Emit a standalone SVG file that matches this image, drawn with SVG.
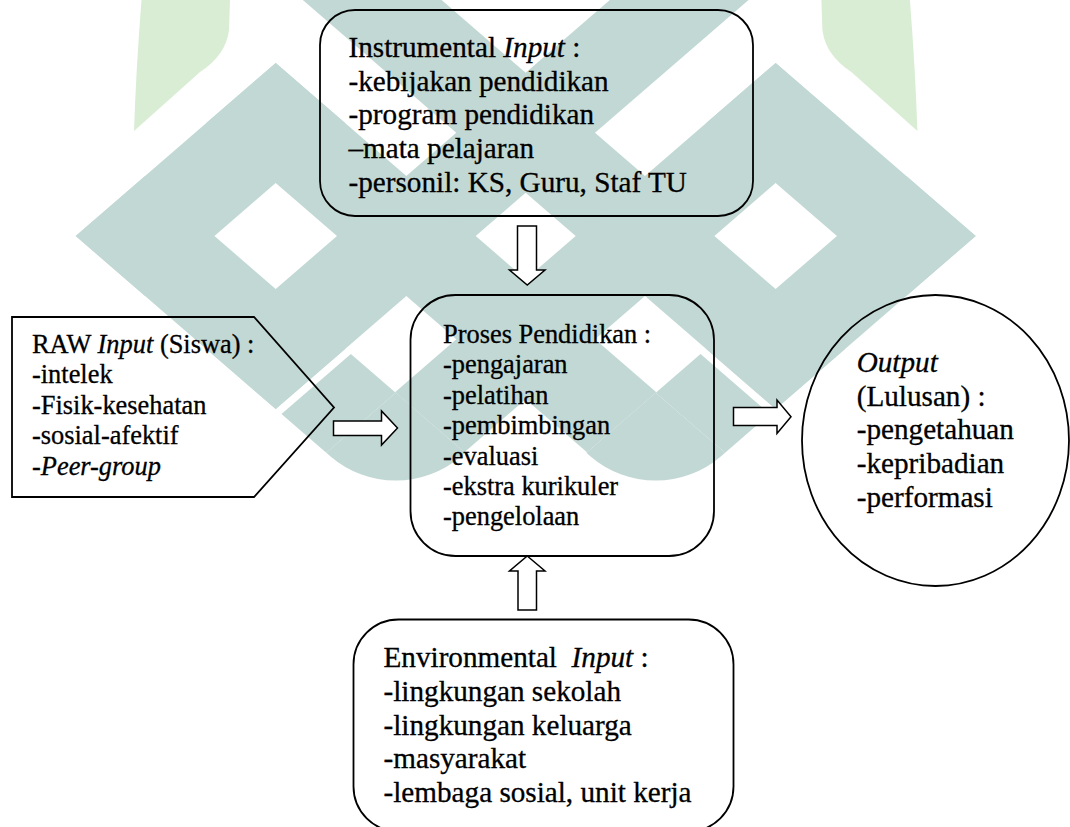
<svg xmlns="http://www.w3.org/2000/svg" xmlns:xlink="http://www.w3.org/1999/xlink" width="1070" height="827" viewBox="0 0 1070 827">
<style>
.wt{fill:#c2d8d4}
.wg{fill:#d9edd4}
.box{fill:none;stroke:#000;stroke-width:1.8}
.arrow{fill:#fff;stroke:#000;stroke-width:1.5;stroke-linejoin:miter}
.t{font-family:'Liberation Serif','Times New Roman',serif;fill:#000;stroke:#000;stroke-width:0.3}
.big{font-size:29.2px}
.small{font-size:26.4px}
.i{font-style:italic}
</style>
<defs>
<g id="wmHalf">
<path class="wg" d="M141.5,0 L230,0 L229,30 Q226,55 200,72 L134,131 Q136,70 141.5,0 Z"/>
<g transform="matrix(0.578035 0.5 -0.578035 0.5 0 0)">
<rect class="wt" x="301.5" y="-175.5" width="120" height="346"/>
<rect class="wt" x="527.5" y="-700" width="120" height="870.5"/>
<rect class="wt" x="301.5" y="-175.5" width="658.5" height="120"/>
<rect class="wt" x="301.5" y="50.5" width="346" height="120"/>
<rect class="wt" x="657.5" y="50.5" width="77.5" height="120"/>
</g>
<path class="wt" d="M395.7,392.75 L465,452.75 L461.1,456.2 A100,100 0 0 1 330.3,456.2 L326.3,452.75 Z"/>
</g>
</defs>
<g id="watermark">
<use xlink:href="#wmHalf"/>
<use xlink:href="#wmHalf" transform="translate(1051.4,0) scale(-1,1)"/>
</g>
<g id="instrumental">
<rect class="box" x="320" y="10" width="433" height="206" rx="35" ry="35"/>
<text class="t big" x="348.5" y="57">Instrumental <tspan class="i">Input</tspan> :</text>
<text class="t big" x="348.5" y="90.7">-kebijakan pendidikan</text>
<text class="t big" x="348.5" y="124.4">-program pendidikan</text>
<text class="t big" x="348.5" y="158.1">–mata pelajaran</text>
<text class="t big" x="348.5" y="191.8">-personil: KS, Guru, Staf TU</text>
</g>
<g id="raw">
<polygon class="box" points="12,317 254,317 334,407.5 254,497 12,497"/>
<text class="t small" x="32" y="352.5">RAW <tspan class="i">Input</tspan> (Siswa) :</text>
<text class="t small" x="32" y="383">-intelek</text>
<text class="t small" x="32" y="413.5">-Fisik-kesehatan</text>
<text class="t small" x="32" y="444">-sosial-afektif</text>
<text class="t small" x="32" y="474.5">-<tspan class="i">Peer-group</tspan></text>
</g>
<g id="proses">
<rect class="box" x="410.5" y="295" width="303.5" height="261" rx="45" ry="45"/>
<text class="t small" x="443" y="343">Proses Pendidikan :</text>
<text class="t small" x="443" y="373.4">-pengajaran</text>
<text class="t small" x="443" y="403.8">-pelatihan</text>
<text class="t small" x="443" y="434.2">-pembimbingan</text>
<text class="t small" x="443" y="464.6">-evaluasi</text>
<text class="t small" x="443" y="495">-ekstra kurikuler</text>
<text class="t small" x="443" y="525.4">-pengelolaan</text>
</g>
<g id="output">
<ellipse class="box" cx="935.5" cy="440.5" rx="133.5" ry="145.5"/>
<text class="t big i" x="856.7" y="372">Output</text>
<text class="t big" x="856.7" y="405.7">(Lulusan) :</text>
<text class="t big" x="856.7" y="439.4">-pengetahuan</text>
<text class="t big" x="856.7" y="473.1">-kepribadian</text>
<text class="t big" x="856.7" y="506.8">-performasi</text>
</g>
<g id="environmental">
<rect class="box" x="353.5" y="619.5" width="380" height="212" rx="45" ry="45"/>
<text class="t big" x="383.5" y="667" xml:space="preserve">Environmental  <tspan class="i">Input</tspan> :</text>
<text class="t big" x="383.5" y="701">-lingkungan sekolah</text>
<text class="t big" x="383.5" y="734.7">-lingkungan keluarga</text>
<text class="t big" x="383.5" y="768.4">-masyarakat</text>
<text class="t big" x="383.5" y="802">-lembaga sosial, unit kerja</text>
</g>
<g id="connectors">
<polygon class="arrow" points="517.5,226 536.5,226 536.5,270 545,270 527.25,285 509.5,270 517.5,270"/>
<polygon class="arrow" points="527.25,556 545,571 536.5,571 536.5,610 518,610 518,571 509.5,571"/>
<polygon class="arrow" points="333.5,421 381.5,421 381.5,411 397.5,428 381.5,445 381.5,435.5 333.5,435.5"/>
<polygon class="arrow" points="733.5,407.5 777,407.5 777,400 791,416.75 777,433.5 777,425.5 733.5,425.5"/>
</g>
</svg>
